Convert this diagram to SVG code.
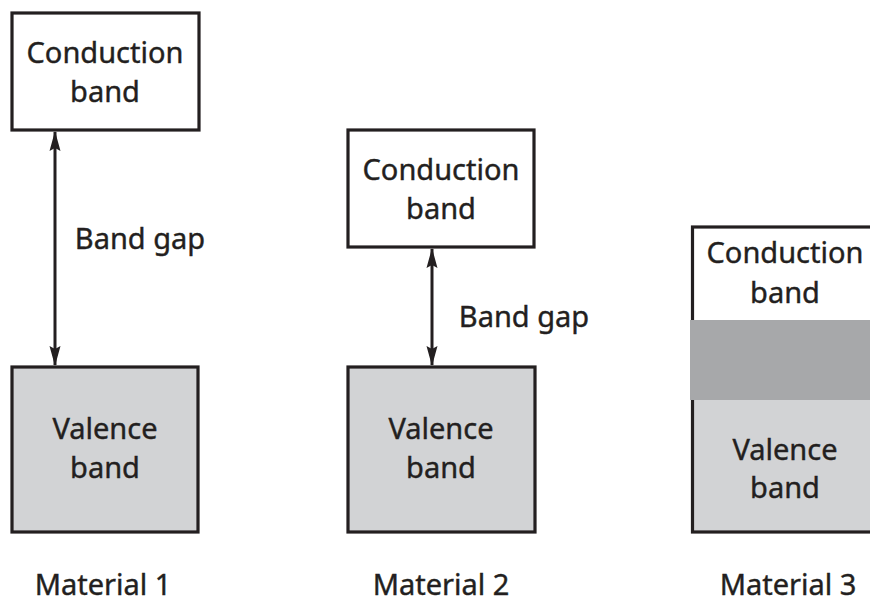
<svg xmlns="http://www.w3.org/2000/svg" width="870" height="604" viewBox="0 0 870 604">
  <defs>
    <marker id="ah" viewBox="0 0 20 12" refX="19" refY="6" markerWidth="20" markerHeight="12" markerUnits="userSpaceOnUse" orient="auto-start-reverse">
      <path d="M0,0.5 L20,6 L0,11.5 L3,6 Z" fill="#231f20"/>
    </marker>
  </defs>
  <style>
    text { font-family: "Noto Sans", "DejaVu Sans", sans-serif; font-size: 29px; fill: #231f20; stroke: #231f20; stroke-width: 0.4; text-anchor: middle; }
    .box { stroke: #231f20; stroke-width: 3.2; }
    .white { fill: #ffffff; }
    .grey { fill: #d2d3d5; }
    .conn { stroke: #231f20; stroke-width: 3; fill: none; }
  </style>
  <rect width="870" height="604" fill="#ffffff"/>

  <g id="m1-conduction">
    <rect class="box white" x="12" y="13" width="187" height="117"/>
    <text x="105" y="63">Conduction</text>
    <text x="105" y="102">band</text>
  </g>
  <g id="m1-valence">
    <rect class="box grey" x="12" y="367" width="186" height="165"/>
    <text x="105" y="439">Valence</text>
    <text x="105" y="478">band</text>
  </g>
  <g id="m1-label">
    <text x="103" y="595">Material 1</text>
  </g>
  <g id="m1-gap-label">
    <text x="140" y="249">Band gap</text>
  </g>

  <g id="m2-conduction">
    <rect class="box white" x="348" y="130" width="186" height="117"/>
    <text x="441" y="180">Conduction</text>
    <text x="441" y="219">band</text>
  </g>
  <g id="m2-valence">
    <rect class="box grey" x="348" y="367" width="187" height="165"/>
    <text x="441" y="439">Valence</text>
    <text x="441" y="478">band</text>
  </g>
  <g id="m2-label">
    <text x="441" y="595">Material 2</text>
  </g>
  <g id="m2-gap-label">
    <text x="524" y="327">Band gap</text>
  </g>

  <g id="m3-bands">
    <rect class="grey" x="692" y="400" width="190" height="132"/>
    <rect class="box" x="692.5" y="227" width="190" height="305" fill="none"/>
    <rect x="690" y="320" width="182" height="80" fill="#a7a8aa"/>
    <text x="785" y="263">Conduction</text>
    <text x="785" y="303">band</text>
    <text x="785" y="460">Valence</text>
    <text x="785" y="498">band</text>
  </g>
  <g id="m3-label">
    <text x="788" y="595">Material 3</text>
  </g>

  <g id="connectors">
    <line class="conn" x1="55" y1="132" x2="55" y2="365" marker-start="url(#ah)" marker-end="url(#ah)"/>
    <line class="conn" x1="432" y1="249" x2="432" y2="365" marker-start="url(#ah)" marker-end="url(#ah)"/>
  </g>
</svg>
